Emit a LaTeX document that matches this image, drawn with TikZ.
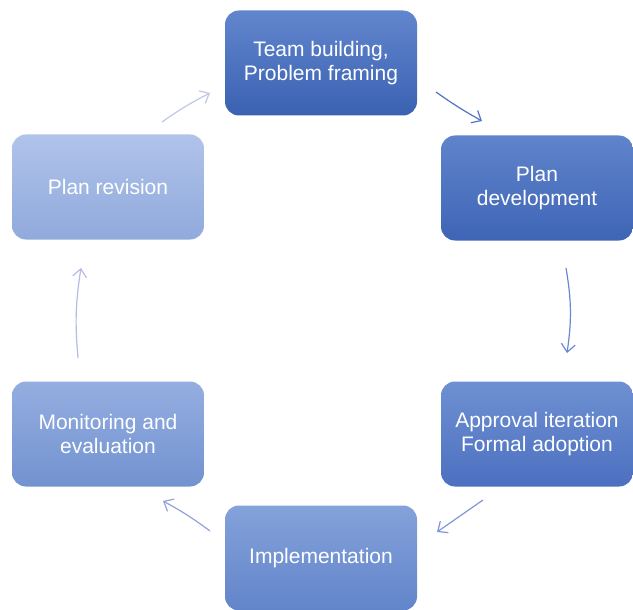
\documentclass[tikz,border=0pt]{standalone}
\usepackage{fontspec}
\setmainfont{Liberation Sans}
\usetikzlibrary{arrows.meta}
\definecolor{T1}{RGB}{98, 134, 205}
\definecolor{T2}{RGB}{58, 97, 178}
\definecolor{D1}{RGB}{96, 132, 203}
\definecolor{D2}{RGB}{62, 101, 182}
\definecolor{A1}{RGB}{110, 144, 210}
\definecolor{A2}{RGB}{76, 112, 192}
\definecolor{I1}{RGB}{132, 162, 218}
\definecolor{I2}{RGB}{98, 132, 202}
\definecolor{M1}{RGB}{148, 174, 224}
\definecolor{M2}{RGB}{114, 146, 208}
\definecolor{P1}{RGB}{176, 195, 234}
\definecolor{P2}{RGB}{144, 170, 220}

\tikzset{
  stage/.style={rounded corners=14pt, minimum width=192pt, minimum height=105pt,
    align=center, text=white, font=\fontsize{21}{24}\selectfont},
  flow/.style={line width=1.2pt, -{Straight Barb[length=8pt,width=14pt]}}
}

\begin{document}
\begin{tikzpicture}[x=1pt, y=-1pt]
   \useasboundingbox (0,0) rectangle (633,610);
   % stages of the cycle
   \node[stage, top color=T1, bottom color=T2] (team) at (321,63) {Team building,\\Problem framing};
   \node[stage, top color=D1, bottom color=D2] (develop) at (537,188) {Plan\\development};
   \node[stage, top color=A1, bottom color=A2] (approval) at (537,434) {Approval iteration\\Formal adoption};
   \node[stage, top color=I1, bottom color=I2] (implement) at (321,558) {Implementation};
   \node[stage, top color=M1, bottom color=M2] (monitor) at (108,434) {Monitoring and\\evaluation};
   \node[stage, top color=P1, bottom color=P2] (revision) at (108,187) {Plan revision};
   % ends of the arrows
   \coordinate (r1) at (162,122);  \coordinate (t1) at (210,93);
   \coordinate (t2) at (436,92);   \coordinate (d2) at (482,121);
   \coordinate (d3) at (566,268);  \coordinate (a3) at (567,353);
   \coordinate (a4) at (483,500);  \coordinate (i4) at (437,532);
   \coordinate (i5) at (210,531);  \coordinate (m5) at (163,501);
   \coordinate (m6) at (78,358);   \coordinate (p6) at (81,268);
   \draw[flow, color={rgb,255:red,192;green,198;blue,232}] (r1) to[bend left=4] (t1);
   \draw[flow, color={rgb,255:red,80;green,115;blue,198}] (t2) to[bend right=3] (d2);
   \draw[flow, color={rgb,255:red,106;green,136;blue,210}] (d3) to[bend left=9] (a3);
   \draw[flow, color={rgb,255:red,128;green,150;blue,214}] (a4) to (i4);
   \draw[flow, color={rgb,255:red,148;green,160;blue,220}] (i5) to[bend right=4] (m5);
   \draw[flow, color={rgb,255:red,178;green,188;blue,228}] (m6) to[bend left=7] (p6);
\end{tikzpicture}
\end{document}
